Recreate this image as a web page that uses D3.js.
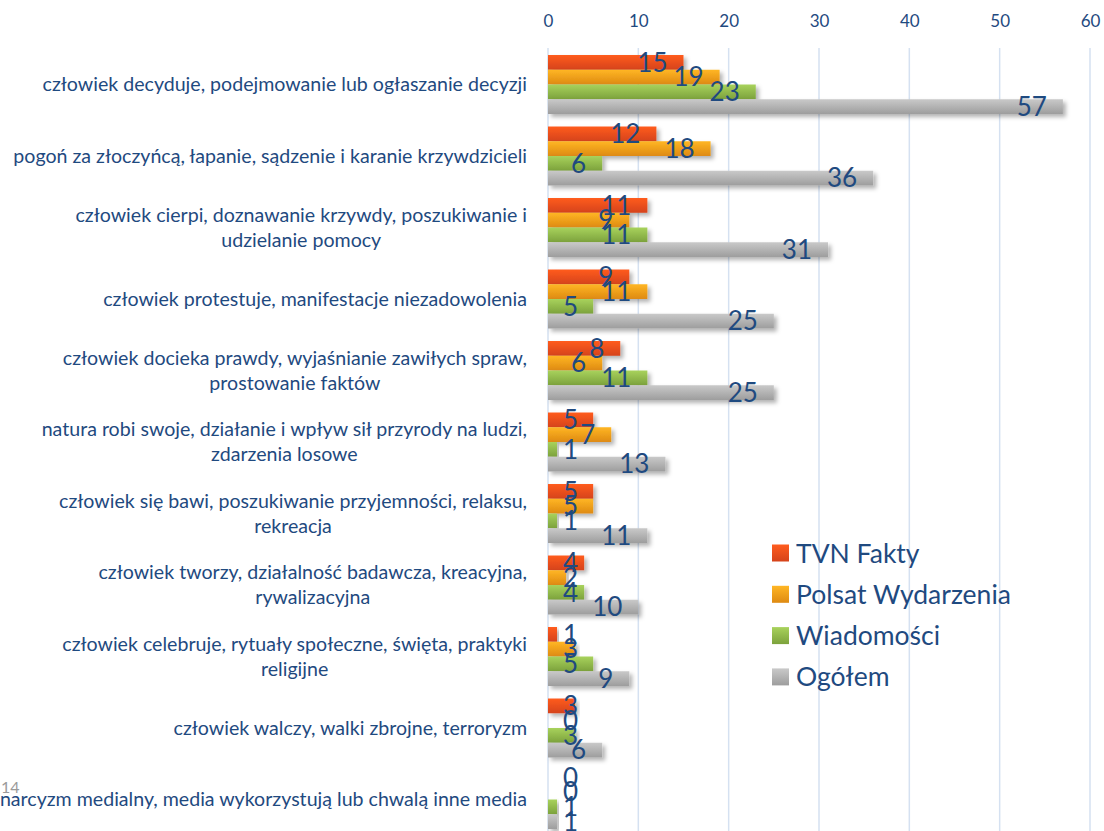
<!DOCTYPE html>
<html>
<head>
<meta charset="utf-8">
<script src="https://cdn.jsdelivr.net/npm/d3@7"></script>
<style>
    body { margin: 0; background: #fff; }
    text { font-family: Lato, "Open Sans", sans-serif; }
</style>
</head>
<body>
<svg id="chart" width="1104" height="831"></svg>
<script>
var categories = [
    "człowiek decyduje, podejmowanie lub ogłaszanie decyzji",
    "pogoń za złoczyńcą, łapanie, sądzenie i karanie krzywdzicieli",
    "człowiek cierpi, doznawanie krzywdy, poszukiwanie i\nudzielanie pomocy",
    "człowiek protestuje, manifestacje niezadowolenia",
    "człowiek docieka prawdy, wyjaśnianie zawiłych spraw,\nprostowanie faktów",
    "natura robi swoje, działanie i wpływ sił przyrody na ludzi,\nzdarzenia losowe",
    "człowiek się bawi, poszukiwanie przyjemności, relaksu,\nrekreacja",
    "człowiek tworzy, działalność badawcza, kreacyjna,\nrywalizacyjna",
    "człowiek celebruje, rytuały społeczne, święta, praktyki\nreligijne",
    "człowiek walczy, walki zbrojne, terroryzm",
    "narcyzm medialny, media wykorzystują lub chwalą inne media"
];
var seriesNames = ["TVN Fakty", "Polsat Wydarzenia", "Wiadomości", "Ogółem"];
var tvnFakty = [15, 12, 11, 9, 8, 5, 5, 4, 1, 3, 0];
var polsatWydarzenia = [19, 18, 9, 11, 6, 7, 5, 2, 3, 0, 0];
var wiadomosci = [23, 6, 11, 5, 11, 1, 1, 4, 5, 3, 1];
var ogolem = [57, 36, 31, 25, 25, 13, 11, 10, 9, 6, 1];
var xTicks = [0, 10, 20, 30, 40, 50, 60];

var seriesValues = [tvnFakty, polsatWydarzenia, wiadomosci, ogolem];
var colors = [
    ["#ff5c1e", "#d5431a"],
    ["#ffb624", "#de8a12"],
    ["#a8d25c", "#7ca23c"],
    ["#c9c9c9", "#9d9d9d"]
];
var textColor = "#1f4a80";

var svg = d3.select("#chart");
var defs = svg.append("defs");

colors.forEach(function (c, i) {
    var grad = defs.append("linearGradient")
        .attr("id", "grad" + i)
        .attr("x1", 0).attr("y1", 0).attr("x2", 0).attr("y2", 1);
    grad.append("stop").attr("offset", "0%").attr("stop-color", c[0]);
    grad.append("stop").attr("offset", "100%").attr("stop-color", c[1]);
});

var shadow = defs.append("filter").attr("id", "shadow")
    .attr("x", "-5%").attr("y", "-30%").attr("width", "120%").attr("height", "180%");
shadow.append("feDropShadow")
    .attr("dx", 3).attr("dy", 3).attr("stdDeviation", 2)
    .attr("flood-color", "#000").attr("flood-opacity", 0.3);

var x = d3.scaleLinear().domain([0, 60]).range([548, 1090]);

var y = d3.scaleBand()
    .domain(categories)
    .range([48.75, 48.75 + 71.5 * categories.length])
    .paddingInner(0.175)
    .paddingOuter(0.0875);

var ySub = d3.scaleBand()
    .domain(seriesNames)
    .range([0, y.bandwidth()]);

// gridlines
svg.append("g").selectAll("line")
    .data(xTicks)
    .enter().append("line")
    .attr("x1", function (d) { return x(d); })
    .attr("x2", function (d) { return x(d); })
    .attr("y1", 48)
    .attr("y2", 831)
    .attr("stroke", "#d5e1f1")
    .attr("stroke-width", 1.5);

// top axis
var axis = svg.append("g")
    .attr("transform", "translate(0,27)")
    .call(d3.axisTop(x).tickValues(xTicks).tickSize(0).tickPadding(0));
axis.select(".domain").remove();
axis.selectAll("text")
    .attr("fill", textColor)
    .style("font-size", "17px")
    .style("font-family", "Lato, sans-serif");

// category labels
var labelG = svg.append("g");
categories.forEach(function (cat) {
    var lines = cat.split("\n");
    var t = labelG.append("text")
        .attr("fill", textColor)
        .style("font-size", "19.6px");
    var cy = y(cat) + y.bandwidth() / 2;
    var lh = 25;
    lines.forEach(function (ln, j) {
        t.append("tspan")
            .attr("y", cy - (lines.length - 1) * lh / 2 + j * lh)
            .attr("dy", "0.35em")
            .text(ln);
    });
    // right-align the block, centre the lines inside it
    var widths = [];
    t.selectAll("tspan").each(function () { widths.push(this.getComputedTextLength()); });
    var maxW = d3.max(widths);
    var cx = 527 - maxW / 2;
    t.attr("text-anchor", "middle");
    t.selectAll("tspan").attr("x", cx);
});

// bars
var rows = [];
categories.forEach(function (cat, i) {
    seriesNames.forEach(function (s, k) {
        rows.push({ cat: cat, series: s, k: k, value: seriesValues[k][i] });
    });
});

svg.append("g").selectAll("rect")
    .data(rows.filter(function (d) { return d.value > 0; }))
    .enter().append("rect")
    .attr("x", x(0))
    .attr("y", function (d) { return y(d.cat) + ySub(d.series); })
    .attr("width", function (d) { return x(d.value) - x(0); })
    .attr("height", ySub.bandwidth())
    .attr("fill", function (d) { return "url(#grad" + d.k + ")"; })
    .attr("filter", "url(#shadow)");

// value labels
svg.append("g").selectAll("text")
    .data(rows)
    .enter().append("text")
    .attr("x", function (d) { return Math.max(x(d.value) - 16, x(0) + 30); })
    .attr("y", function (d) { return y(d.cat) + ySub(d.series) + ySub.bandwidth() / 2; })
    .attr("dy", "0.36em")
    .attr("text-anchor", "end")
    .attr("fill", textColor)
    .style("font-size", "26px")
    .text(function (d) { return d.value; });

// legend
var legend = svg.append("g").attr("transform", "translate(772,553)");
seriesNames.forEach(function (s, k) {
    var row = legend.append("g").attr("transform", "translate(0," + (k * 41.3) + ")");
    row.append("rect")
        .attr("x", 0).attr("y", -8.5)
        .attr("width", 17).attr("height", 17)
        .attr("fill", "url(#grad" + k + ")");
    row.append("text")
        .attr("x", 24).attr("y", 0).attr("dy", "0.36em")
        .attr("fill", textColor)
        .style("font-size", "26.5px")
        .text(s);
});

// page number
svg.append("text")
    .attr("x", 1).attr("y", 793)
    .attr("fill", "#9a9a9a")
    .style("font-size", "16px")
    .text("14");
</script>
</body>
</html>
